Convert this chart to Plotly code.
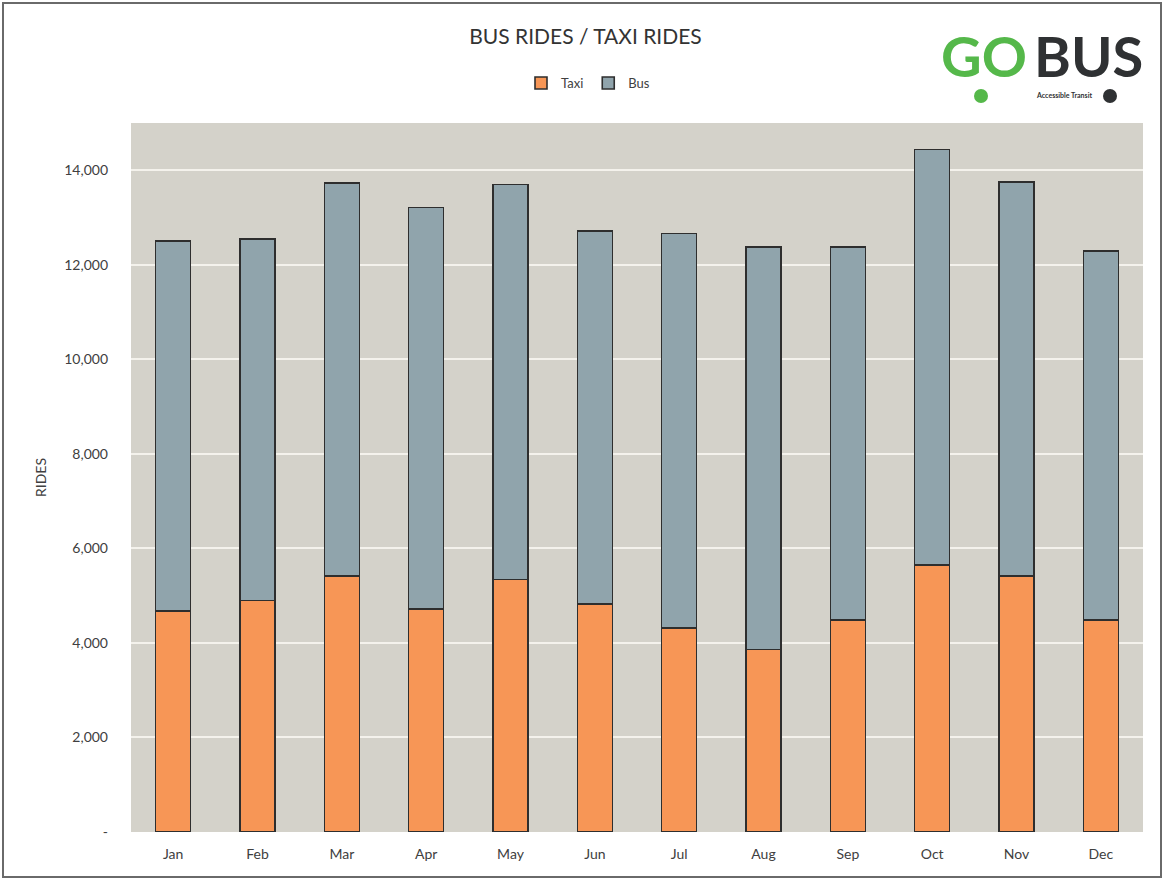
import plotly.graph_objects as go

# Monthly ride counts
months = ["Jan", "Feb", "Mar", "Apr", "May", "Jun",
          "Jul", "Aug", "Sep", "Oct", "Nov", "Dec"]
taxi_rides = [4670, 4900, 5410, 4720, 5340, 4830, 4310, 3860, 4480, 5650, 5420, 4490]
bus_rides = [7830, 7650, 8320, 8490, 8360, 7880, 8350, 8520, 7900, 8790, 8330, 7800]

y_tick_values = [0, 2000, 4000, 6000, 8000, 10000, 12000, 14000]
y_tick_labels = ["-", "2,000", "4,000", "6,000", "8,000", "10,000", "12,000", "14,000"]

FONT = "Lato, Open Sans, sans-serif"
TEXT = "#404040"
EDGE = "#2e2e2e"

# plot area in pixels, used to place paper-referenced decorations
PL, PT, PW, PH = 131, 123, 1012, 709


def px(x):
    return (x - PL) / PW


def py(y):
    return 1 + (PT - y) / PH


fig = go.Figure()
fig.add_bar(x=months, y=taxi_rides, name="Taxi",
            marker=dict(color="#F79656", line=dict(color=EDGE, width=1.6)))
fig.add_bar(x=months, y=bus_rides, name="Bus",
            marker=dict(color="#90A4AC", line=dict(color=EDGE, width=1.6)))

fig.update_layout(
    barmode="stack",
    bargap=0.585,
    width=1164, height=879,
    margin=dict(l=131, r=21, t=123, b=47),
    paper_bgcolor="white",
    plot_bgcolor="#D4D2CA",
    font=dict(family=FONT, size=14, color=TEXT),
    title=dict(text="BUS RIDES / TAXI RIDES", x=0.503, xanchor="center",
               y=0.958, yanchor="middle",
               font=dict(family=FONT, size=21, color="#333333")),
    legend=dict(orientation="h", x=px(588), xanchor="center", y=py(83), yanchor="middle",
                font=dict(family=FONT, size=13, color=TEXT),
                itemwidth=30, traceorder="normal", bgcolor="rgba(0,0,0,0)"),
    xaxis=dict(showgrid=False, showline=False, ticks="", ticklabelstandoff=12,
               tickfont=dict(family=FONT, size=14, color=TEXT)),
    yaxis=dict(range=[0, 15000], tickvals=y_tick_values, ticktext=y_tick_labels,
               showgrid=True, gridcolor="#F4F2EC", gridwidth=2, zeroline=False,
               showline=False, ticks="", ticklabelstandoff=22,
               tickfont=dict(family=FONT, size=14, color=TEXT),
               title=dict(text="RIDES", standoff=14,
                          font=dict(family=FONT, size=14, color=TEXT))),
)

# Outer frame around the chart
fig.add_shape(type="rect", xref="paper", yref="paper",
              x0=px(3), x1=px(1161), y0=py(877), y1=py(3),
              line=dict(color="#6a6a6a", width=2), fillcolor="rgba(0,0,0,0)", layer="below")

# GOBUS logo in the top-right corner
GREEN, DARK = "#55B84A", "#2F3133"
fig.add_annotation(text="<b>GO</b>", xref="paper", yref="paper",
                   x=px(984), y=py(56), xanchor="center", yanchor="middle",
                   showarrow=False, font=dict(family=FONT, size=56, color=GREEN))
fig.add_annotation(text="<b>BUS</b>", xref="paper", yref="paper",
                   x=px(1088), y=py(56), xanchor="center", yanchor="middle",
                   showarrow=False, font=dict(family=FONT, size=56, color=DARK))
fig.add_annotation(text="<b>Accessible Transit</b>", xref="paper", yref="paper",
                   x=px(1064), y=py(95), xanchor="center", yanchor="middle",
                   showarrow=False, font=dict(family=FONT, size=7, color=DARK))
for cx, col in [(981, GREEN), (1110, DARK)]:
    fig.add_shape(type="circle", xref="paper", yref="paper",
                  x0=px(cx - 7), x1=px(cx + 7), y0=py(103), y1=py(89),
                  fillcolor=col, line=dict(width=0))

fig.write_html("out.html")
